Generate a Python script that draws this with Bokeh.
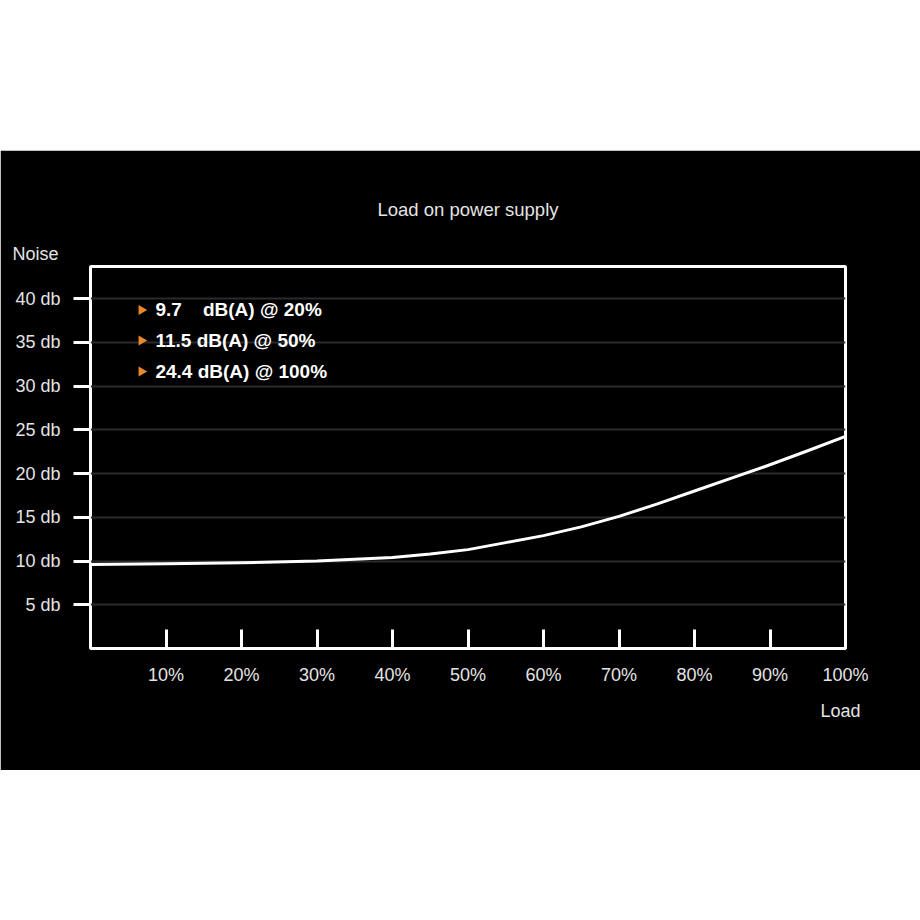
from bokeh.core.properties import value
from bokeh.embed import file_html
from bokeh.layouts import column
from bokeh.models import FixedTicker, Spacer, Title
from bokeh.plotting import figure
from bokeh.resources import INLINE
import math

# noise curve (load in %, noise in dB)
load = [0, 10, 20, 30, 40, 45, 50, 55, 60, 65, 70, 75, 80, 85, 90, 95, 100]
noise = [9.6, 9.7, 9.8, 10.0, 10.4, 10.8, 11.3, 12.1, 12.9, 13.9, 15.1,
         16.5, 18.0, 19.5, 21.0, 22.6, 24.25]

y_ticks = [5, 10, 15, 20, 25, 30, 35, 40]
y_labels = ["5 db", "10 db", "15 db", "20 db", "25 db", "30 db", "35 db", "40 db"]
x_ticks = [10, 20, 30, 40, 50, 60, 70, 80, 90, 100]
x_labels = ["10%", "20%", "30%", "40%", "50%", "60%", "70%", "80%", "90%", "100%"]

notes = ["9.7\u00a0\u00a0\u00a0 dB(A) @ 20%", "11.5 dB(A) @ 50%", "24.4 dB(A) @ 100%"]
note_y = [38.7, 35.2, 31.65]

FONT = "Liberation Sans"
GREY = "#e4e4e4"

p = figure(width=920, height=620, x_range=(0, 100), y_range=(0, 43.66),
           output_backend="svg", toolbar_location=None, tools="",
           title_location=None,
           background_fill_color="black", border_fill_color="black",
           min_border_left=90, min_border_right=75,
           min_border_top=116, min_border_bottom=122)


def side_title(text, align, offset, standoff, size="18px"):
    return Title(text=text, align=align, offset=offset, standoff=standoff,
                 text_font=FONT, text_font_size=size, text_font_style="normal",
                 text_color=GREY)


# closest to the frame first
p.add_layout(side_title("Noise", "left", -78, 5), "above")
p.add_layout(side_title("Load on power supply", "center", 0, 39, "18.5px"), "above")

p.outline_line_color = "white"
p.outline_line_width = 3

p.xgrid.grid_line_color = None
p.ygrid.grid_line_color = "#2b2b2f"
p.ygrid.grid_line_width = 2

p.yaxis.ticker = FixedTicker(ticks=y_ticks)
p.yaxis.major_label_overrides = dict(zip(y_ticks, y_labels))
p.yaxis.major_tick_out = 17
p.yaxis.major_tick_in = 0
p.yaxis.major_label_standoff = 13

p.xaxis.ticker = FixedTicker(ticks=x_ticks)
p.xaxis.major_label_overrides = dict(zip(x_ticks, x_labels))
p.xaxis.major_tick_in = 19
p.xaxis.major_tick_out = 0
p.xaxis.major_label_standoff = 16

for ax in (p.xaxis, p.yaxis):
    ax.axis_line_color = None
    ax.minor_tick_line_color = None
    ax.major_tick_line_color = "white"
    ax.major_tick_line_width = 3
    ax.major_label_text_color = GREY
    ax.major_label_text_font = FONT
    ax.major_label_text_font_size = "18px"

p.add_layout(side_title("Load", "right", -15, 22), "below")

p.line(load, noise, line_color="white", line_width=3, line_join="round")

# legend-like notes in the top left corner
p.scatter([6.75] * len(notes), note_y, marker="triangle", angle=-math.pi / 2,
          size=10, fill_color="#e8892a", line_color=None)
p.text([8.6] * len(notes), note_y, text=notes, text_font=value(FONT),
       text_font_style="bold", text_font_size="19px", text_color="white",
       text_baseline="middle")

page = column(Spacer(width=920, height=150), p)

open("out.html", "w").write(file_html(page, INLINE))
